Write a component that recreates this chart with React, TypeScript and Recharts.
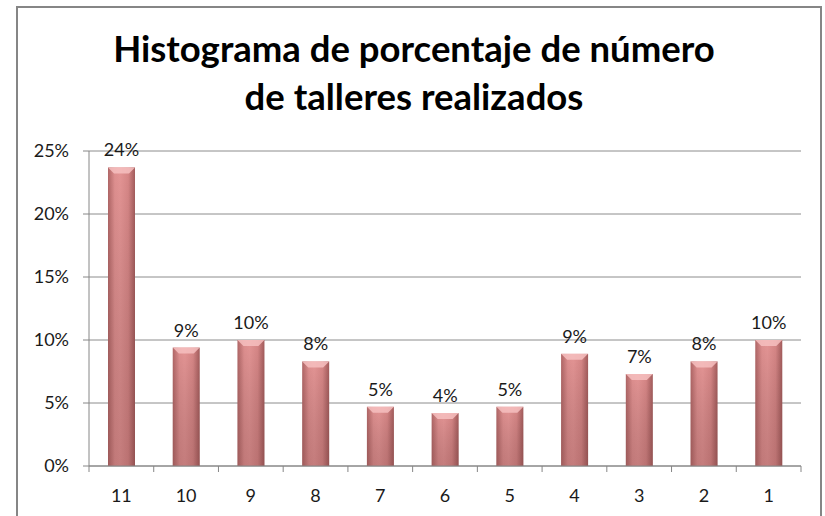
import React from "react"
import { BarChart, Bar, XAxis, YAxis, CartesianGrid, LabelList } from "recharts"

const talleres = ["11", "10", "9", "8", "7", "6", "5", "4", "3", "2", "1"]
const porcentaje = [23.7, 9.4, 10.0, 8.3, 4.7, 4.2, 4.7, 8.9, 7.3, 8.3, 10.0]
const yTicks = [0, 5, 10, 15, 20, 25]

const data = talleres.map((t, i) => ({ t, v: porcentaje[i] }))

const font = "Lato, 'Open Sans', sans-serif"

function BarShape(props: any) {
  const { x, y, width, height } = props
  if (!height || height <= 0) return null
  const b = Math.min(6, height)
  return (
    <g>
      <rect x={x} y={y} width={width} height={height} fill="url(#barH)" />
      <rect x={x} y={y} width={width} height={height} fill="url(#barV)" />
      <polygon
        points={`${x},${y} ${x + width},${y} ${x + width - b},${y + b} ${x + b},${y + b}`}
        fill="#f6c0c0"
        opacity={0.85}
      />
    </g>
  )
}

function XTick(props: any) {
  const { x, y, payload, index } = props
  const half = payload?.offset || 32.4
  const axisY = y - 8
  return (
    <g>
      <line x1={x - half} y1={axisY} x2={x - half} y2={axisY + 6} stroke="#868686" />
      {index === talleres.length - 1 && (
        <line x1={x + half} y1={axisY} x2={x + half} y2={axisY + 6} stroke="#868686" />
      )}
      <text x={x} y={axisY + 29} textAnchor="middle" dominantBaseline="central" fontSize={18} fill="#1a1a1a" fontFamily={font}>
        {payload.value}
      </text>
    </g>
  )
}

export default function App() {
  return (
    <div style={{ position: "absolute", left: 0, top: 0, width: 825, height: 516, background: "#fff", overflow: "hidden" }}>
      <div
        style={{
          position: "absolute",
          left: 16,
          top: 6,
          width: 806,
          height: 540,
          border: "2px solid #868686",
          boxSizing: "border-box",
        }}
      />
      <div
        style={{
          position: "absolute",
          left: 0,
          top: 24,
          width: 828,
          textAlign: "center",
          fontFamily: font,
          fontWeight: 700,
          fontSize: 36.5,
          lineHeight: "48px",
          color: "#000",
        }}
      >
        <div>Histograma de porcentaje de número</div>
        <div>de talleres realizados</div>
      </div>
      <div style={{ position: "absolute", left: 0, top: 0 }}>
        <BarChart width={825} height={516} data={data} margin={{ top: 151, right: 24, bottom: 0, left: 0 }} barCategoryGap="0%">
          <defs>
            <linearGradient id="barH" x1="0" y1="0" x2="1" y2="0">
              <stop offset="0%" stopColor="#b06666" />
              <stop offset="25%" stopColor="#de8f8f" />
              <stop offset="45%" stopColor="#e39494" />
              <stop offset="75%" stopColor="#d68686" />
              <stop offset="100%" stopColor="#a35c5c" />
            </linearGradient>
            <linearGradient id="barV" x1="0" y1="0" x2="0" y2="1">
              <stop offset="0%" stopColor="#000" stopOpacity={0} />
              <stop offset="100%" stopColor="#5a2a2a" stopOpacity={0.22} />
            </linearGradient>
          </defs>
          <CartesianGrid vertical={false} stroke="#8c8c8c" strokeWidth={1} />
          <XAxis
            dataKey="t"
            height={50}
            axisLine={{ stroke: "#868686" }}
            tickLine={false}
            tick={<XTick />}
            interval={0}
          />
          <YAxis
            width={89}
            domain={[0, 25]}
            ticks={yTicks}
            tickFormatter={(v: number) => `${v}%`}
            axisLine={{ stroke: "#868686" }}
            tickLine={{ stroke: "#868686" }}
            tickSize={6}
            tickMargin={14}
            tick={{ fontSize: 18, fill: "#1a1a1a", fontFamily: font }}
          />
          <Bar dataKey="v" barSize={27} shape={<BarShape />} isAnimationActive={false}>
            <LabelList
              dataKey="v"
              position="top"
              offset={11}
              formatter={(v: number) => `${Math.round(v)}%`}
              style={{ fontSize: 18, fill: "#1a1a1a", fontFamily: font }}
            />
          </Bar>
        </BarChart>
      </div>
    </div>
  )
}
